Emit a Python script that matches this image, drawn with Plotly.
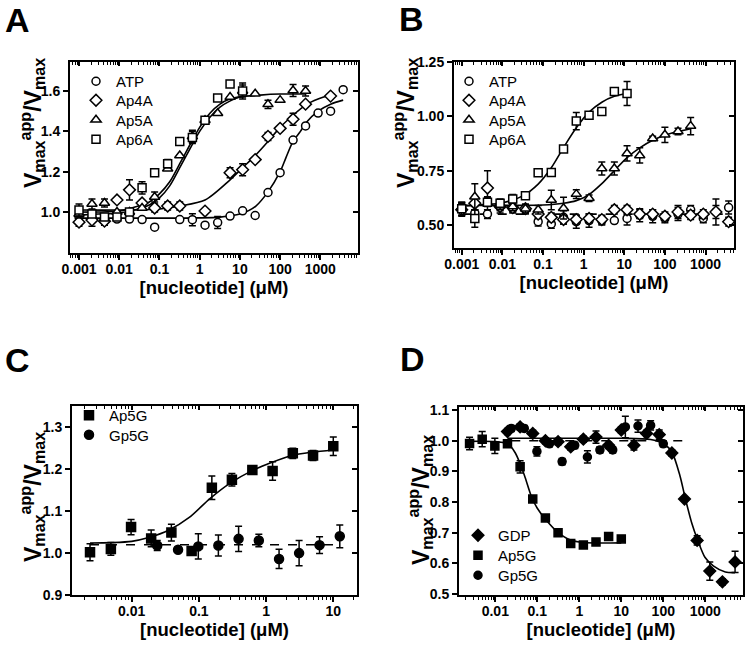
import plotly.graph_objects as go

W, H = 745, 647
FONT = "Liberation Sans, Arial, sans-serif"

# ---------------- Panel A ----------------
A_ATP_X = [0.001, 0.0021, 0.0043, 0.0088, 0.018, 0.037, 0.076, 0.32, 0.66, 1.36, 2.8, 5.7, 11.7, 24, 50, 100, 210, 430, 880, 1800, 3700]
A_ATP_Y = [0.975, 0.97, 0.962, 0.965, 0.965, 0.963, 0.925, 0.963, 0.962, 0.935, 0.948, 0.98, 1.006, 0.983, 1.097, 1.195, 1.357, 1.427, 1.491, 1.50, 1.607]
A_ATP_E = [0.02, 0.02, 0.02, 0.01, 0.01, 0, 0, 0, 0.03, 0, 0.03, 0, 0, 0, 0, 0, 0, 0, 0, 0, 0]

A_AP4A_X = [0.001, 0.0021, 0.0043, 0.0088, 0.018, 0.037, 0.076, 0.16, 0.32, 1.36, 5.7, 11.7, 24, 50, 100, 210, 430, 1800]
A_AP4A_Y = [0.95, 0.96, 0.955, 1.06, 1.11, 1.045, 1.02, 1.03, 1.03, 1.005, 1.195, 1.21, 1.26, 1.375, 1.415, 1.46, 1.535, 1.575]
A_AP4A_E = [0.02, 0.03, 0.02, 0, 0.05, 0, 0.02, 0.02, 0.02, 0, 0.025, 0.03, 0, 0.02, 0, 0.03, 0, 0]

A_AP5A_X = [0.001, 0.0021, 0.0043, 0.0088, 0.018, 0.037, 0.076, 0.16, 0.32, 0.66, 1.36, 2.8, 5.7, 11.7, 24, 50, 100, 210, 430]
A_AP5A_Y = [0.99, 1.04, 1.045, 1.0, 1.0, 1.02, 1.075, 1.215, 1.28, 1.375, 1.455, 1.49, 1.57, 1.60, 1.587, 1.534, 1.555, 1.603, 1.60]
A_AP5A_E = [0.02, 0.025, 0.02, 0, 0, 0, 0.025, 0, 0, 0.03, 0, 0, 0, 0.03, 0, 0.02, 0, 0.03, 0.025]

A_AP6A_X = [0.001, 0.0021, 0.0043, 0.0088, 0.018, 0.037, 0.076, 0.16, 0.32, 0.66, 1.36, 2.8, 5.7, 11.7]
A_AP6A_Y = [1.01, 0.99, 0.975, 0.975, 1.0, 1.12, 1.195, 1.24, 1.35, 1.37, 1.455, 1.565, 1.635, 1.60]
A_AP6A_E = [0.03, 0, 0, 0, 0, 0.03, 0, 0.02, 0, 0.03, 0, 0, 0.015, 0.04]

A_FIT_ATP_X = [0.001, 0.01, 0.1, 1, 3.2, 10, 25, 50, 100, 140, 210, 320, 430, 880, 1800, 3700]
A_FIT_ATP_Y = [0.97, 0.97, 0.97, 0.971, 0.975, 0.99, 1.03, 1.10, 1.20, 1.27, 1.35, 1.40, 1.44, 1.50, 1.535, 1.555]
A_FIT_AP4A_X = [0.001, 0.01, 0.1, 0.32, 1.36, 5.7, 11.7, 24, 50, 100, 210, 430, 880, 1800]
A_FIT_AP4A_Y = [1.01, 1.01, 1.015, 1.03, 1.06, 1.16, 1.22, 1.28, 1.35, 1.42, 1.48, 1.53, 1.56, 1.58]
A_FIT_AP5A_X = [0.001, 0.003, 0.01, 0.03, 0.056, 0.1, 0.18, 0.32, 0.56, 1, 1.8, 3.2, 5.6, 10, 32, 100, 430]
A_FIT_AP5A_Y = [0.985, 0.99, 0.995, 1.015, 1.035, 1.07, 1.13, 1.22, 1.31, 1.40, 1.47, 1.52, 1.55, 1.57, 1.58, 1.585, 1.585]
A_FIT_AP6A_X = [0.001, 0.003, 0.01, 0.03, 0.056, 0.1, 0.18, 0.32, 0.56, 1, 1.8, 3.2, 5.6, 11.7]
A_FIT_AP6A_Y = [1.0, 1.0, 1.005, 1.03, 1.05, 1.09, 1.15, 1.24, 1.33, 1.42, 1.49, 1.535, 1.56, 1.575]

# ---------------- Panel B ----------------
B_CONC = [0.001, 0.0021, 0.0043, 0.0088, 0.018, 0.037, 0.076, 0.16, 0.32, 0.66, 1.36, 2.8, 5.7, 11.7, 24, 50, 100, 210, 430, 880, 1800, 3700]
B_ATP_Y = [0.575, 0.555, 0.55, 0.585, 0.575, 0.57, 0.515, 0.505, 0.535, 0.515, 0.52, 0.52, 0.52, 0.53, 0.545, 0.54, 0.53, 0.55, 0.57, 0.53, 0.56, 0.58]
B_ATP_E = [0.03, 0.03, 0.02, 0.02, 0.02, 0.02, 0.02, 0.02, 0.03, 0.03, 0.03, 0.02, 0.01, 0.03, 0.03, 0.03, 0.02, 0.03, 0.02, 0.02, 0.03, 0.03]
B_AP4A_Y = [0.57, 0.60, 0.67, 0.585, 0.58, 0.575, 0.55, 0.535, 0.525, 0.525, 0.53, 0.525, 0.57, 0.57, 0.55, 0.55, 0.54, 0.56, 0.545, 0.55, 0.56, 0.515]
B_AP4A_E = [0.03, 0.03, 0.08, 0.03, 0.02, 0.02, 0.02, 0.02, 0.02, 0.02, 0.02, 0.02, 0.02, 0.02, 0.02, 0.02, 0.02, 0.03, 0.02, 0.02, 0.06, 0.02]
B_AP5A_Y = [0.58, 0.63, 0.60, 0.59, 0.585, 0.575, 0.57, 0.615, 0.577, 0.642, 0.623, 0.76, 0.76, 0.829, 0.82, 0.898, 0.915, 0.93, 0.955]
B_AP5A_E = [0.02, 0.06, 0.03, 0.02, 0.02, 0.02, 0.02, 0.045, 0.05, 0.02, 0.015, 0.03, 0.03, 0.035, 0.035, 0.01, 0.035, 0.015, 0.04]
B_AP6A_Y = [0.575, 0.53, 0.605, 0.60, 0.62, 0.635, 0.74, 0.742, 0.85, 0.978, 1.005, 1.022, 1.114, 1.105]
B_AP6A_E = [0.03, 0.04, 0.02, 0.02, 0.02, 0.015, 0.01, 0.01, 0.01, 0.04, 0.01, 0.012, 0.01, 0.055]

B_FIT_AP6A_X = [0.001, 0.01, 0.032, 0.076, 0.16, 0.32, 0.66, 1.36, 2.8, 5.7, 11.7]
B_FIT_AP6A_Y = [0.587, 0.602, 0.634, 0.688, 0.763, 0.856, 0.947, 1.019, 1.065, 1.092, 1.106]
B_FIT_AP5A_X = [0.001, 0.01, 0.1, 0.32, 0.66, 1.36, 2.8, 5.7, 11.7, 24, 50, 100, 210, 430]
B_FIT_AP5A_Y = [0.59, 0.59, 0.592, 0.60, 0.612, 0.64, 0.69, 0.75, 0.81, 0.855, 0.89, 0.913, 0.93, 0.943]
B_FLAT_X = [0.001, 3700]
B_FLAT_Y = [0.55, 0.55]

# ---------------- Panel C ----------------
C_AP5G_X = [0.0024, 0.0049, 0.0098, 0.0195, 0.039, 0.078, 0.156, 0.31, 0.625, 1.25, 2.5, 5, 10]
C_AP5G_Y = [1.002, 1.01, 1.062, 1.035, 1.049, 1.005, 1.156, 1.175, 1.198, 1.196, 1.238, 1.233, 1.255]
C_AP5G_E = [0.02, 0.015, 0.018, 0.02, 0.02, 0.005, 0.028, 0.015, 0.01, 0.022, 0.012, 0.012, 0.022]
C_GP5G_X = [0.024, 0.049, 0.098, 0.195, 0.39, 0.78, 1.56, 3.1, 6.25, 12.5]
C_GP5G_Y = [1.018, 1.008, 1.016, 1.018, 1.034, 1.03, 0.986, 1.0, 1.019, 1.04]
C_GP5G_E = [0.012, 0.005, 0.03, 0.025, 0.03, 0.015, 0.023, 0.03, 0.02, 0.027]
C_FIT_X = [0.0024, 0.005, 0.01, 0.018, 0.036, 0.072, 0.146, 0.3, 0.59, 1.2, 2.4, 4.9, 10]
C_FIT_Y = [1.024, 1.025, 1.028, 1.037, 1.055, 1.085, 1.13, 1.168, 1.195, 1.216, 1.233, 1.241, 1.246]
C_FLAT_X = [0.0024, 12.5]
C_FLAT_Y = [1.02, 1.02]

# ---------------- Panel D ----------------
D_GDP_X = [0.0195, 0.039, 0.078, 0.156, 0.3125, 0.625, 1.25, 2.5, 5, 10, 20, 40, 80, 160, 320, 640, 1280, 2560, 5120]
D_GDP_Y = [1.03, 1.045, 1.024, 1.0, 0.997, 0.98, 1.005, 1.012, 0.985, 1.035, 0.985, 1.024, 1.02, 0.96, 0.81, 0.675, 0.575, 0.54, 0.605]
D_GDP_E = [0.01, 0.01, 0.01, 0.01, 0.01, 0.01, 0.01, 0.02, 0.01, 0.01, 0.015, 0.01, 0.015, 0.01, 0.005, 0.015, 0.03, 0.01, 0.035]
D_AP5G_X = [0.00244, 0.00488, 0.00977, 0.0195, 0.039, 0.078, 0.156, 0.3125, 0.625, 1.25, 2.5, 5, 10]
D_AP5G_Y = [0.991, 1.005, 0.983, 0.99, 0.915, 0.81, 0.748, 0.70, 0.665, 0.66, 0.67, 0.688, 0.68]
D_AP5G_E = [0.02, 0.025, 0.025, 0.01, 0.02, 0.01, 0.01, 0.005, 0.005, 0.005, 0.01, 0.005, 0.005]
D_GP5G_X = [0.024, 0.049, 0.098, 0.195, 0.39, 0.78, 1.56, 3.1, 6.25, 12.5, 25, 50, 100]
D_GP5G_Y = [1.04, 1.04, 0.965, 0.99, 0.932, 0.985, 0.947, 0.97, 0.97, 1.045, 1.048, 1.05, 0.99]
D_GP5G_E = [0.01, 0.01, 0.015, 0.01, 0.01, 0.01, 0.02, 0.01, 0.01, 0.035, 0.02, 0.015, 0.01]
D_FIT_GDP_X = [0.0195, 0.1, 1, 10, 50, 100, 158, 250, 330, 480, 650, 980, 1550, 3000, 5120]
D_FIT_GDP_Y = [1.008, 1.008, 1.008, 1.008, 1.004, 0.99, 0.965, 0.885, 0.815, 0.73, 0.678, 0.62, 0.592, 0.572, 0.57]
D_FIT_AP5G_X = [0.00244, 0.01, 0.02, 0.03, 0.039, 0.05, 0.074, 0.1, 0.155, 0.3, 0.6, 1.25, 10]
D_FIT_AP5G_Y = [0.998, 0.997, 0.99, 0.96, 0.925, 0.885, 0.815, 0.78, 0.745, 0.703, 0.677, 0.668, 0.667]
D_FLAT_X = [0.024, 300]
D_FLAT_Y = [1.0, 1.0]

# ---------------- tick labels ----------------
TICKS_AB = [0.001, 0.01, 0.1, 1, 10, 100, 1000]
TICKS_AB_TEXT = ["0.001", "0.01", "0.1", "1", "10", "100", "1000"]
TICKS_C = [0.01, 0.1, 1, 10]
TICKS_C_TEXT = ["0.01", "0.1", "1", "10"]
TICKS_D = [0.01, 0.1, 1, 10, 100, 1000]
TICKS_D_TEXT = ["0.01", "0.1", "1", "10", "100", "1000"]
YT_A = [1.0, 1.2, 1.4, 1.6]
YT_A_TEXT = ["1.0", "1.2", "1.4", "1.6"]
YT_B = [0.5, 0.75, 1.0, 1.25]
YT_B_TEXT = ["0.50", "0.75", "1.00", "1.25"]
YT_C = [0.9, 1.0, 1.1, 1.2, 1.3]
YT_C_TEXT = ["0.9", "1.0", "1.1", "1.2", "1.3"]
YT_D = [0.5, 0.6, 0.7, 0.8, 0.9, 1.0, 1.1]
YT_D_TEXT = ["0.5", "0.6", "0.7", "0.8", "0.9", "1.0", "1.1"]
X_TITLE = "[nucleotide] (μM)"
Y_TITLE = "V<sub>max</sub><sup>app</sup>/V<sub>max</sub>"

fig = go.Figure()


def minor_vals(lo, hi):
    out = []
    for e in range(lo, hi + 1):
        for m in range(2, 10):
            out.append(m * 10.0 ** e)
    return out


def line(x, y, n, dash="solid"):
    fig.add_trace(go.Scatter(
        x=x, y=y, mode="lines", xaxis=f"x{n}", yaxis=f"y{n}",
        line=dict(color="black", width=1.6, dash=dash, shape="spline", smoothing=0.8),
        showlegend=False, hoverinfo="skip"))


LEG = []  # (legend id, left px, item-centre px)


def pts(x, y, e, name, symbol, fill, size, n, lx, ly):
    lid = "legend" if not LEG else f"legend{len(LEG) + 1}"
    LEG.append((lid, lx, ly))
    fig.add_trace(go.Scatter(
        x=x, y=y, mode="markers", name=name, xaxis=f"x{n}", yaxis=f"y{n}",
        marker=dict(symbol=symbol, size=size, color=fill,
                    line=dict(color="black", width=1.5)),
        error_y=dict(type="data", array=e, visible=True, color="black",
                     thickness=1.5, width=3.5),
        legend=lid, showlegend=True))


# Panel A
line(A_FIT_ATP_X, A_FIT_ATP_Y, 1)
line(A_FIT_AP4A_X, A_FIT_AP4A_Y, 1)
line(A_FIT_AP5A_X, A_FIT_AP5A_Y, 1)
line(A_FIT_AP6A_X, A_FIT_AP6A_Y, 1)
pts(A_ATP_X, A_ATP_Y, A_ATP_E, "ATP", "circle", "white", 8, 1, 76, 81)
pts(A_AP4A_X, A_AP4A_Y, A_AP4A_E, "Ap4A", "diamond", "white", 9, 1, 76, 100)
pts(A_AP5A_X, A_AP5A_Y, A_AP5A_E, "Ap5A", "triangle-up", "white", 9, 1, 76, 119.5)
pts(A_AP6A_X, A_AP6A_Y, A_AP6A_E, "Ap6A", "square", "white", 8, 1, 76, 139)

# Panel B
line(B_FLAT_X, B_FLAT_Y, 2, "dash")
line(B_FIT_AP5A_X, B_FIT_AP5A_Y, 2)
line(B_FIT_AP6A_X, B_FIT_AP6A_Y, 2)
pts(B_CONC, B_ATP_Y, B_ATP_E, "ATP", "circle", "white", 8, 2, 449, 81)
pts(B_CONC, B_AP4A_Y, B_AP4A_E, "Ap4A", "diamond", "white", 9, 2, 449, 100)
pts(B_CONC[:len(B_AP5A_Y)], B_AP5A_Y, B_AP5A_E, "Ap5A", "triangle-up", "white", 9, 2, 449, 119.5)
pts(B_CONC[:len(B_AP6A_Y)], B_AP6A_Y, B_AP6A_E, "Ap6A", "square", "white", 8, 2, 449, 139)

# Panel C
line(C_FLAT_X, C_FLAT_Y, 3, "dash")
line(C_FIT_X, C_FIT_Y, 3)
pts(C_AP5G_X, C_AP5G_Y, C_AP5G_E, "Ap5G", "square", "black", 9, 3, 69, 415)
pts(C_GP5G_X, C_GP5G_Y, C_GP5G_E, "Gp5G", "circle", "black", 9, 3, 69, 434.5)

# Panel D
line(D_FLAT_X, D_FLAT_Y, 4, "dash")
line(D_FIT_GDP_X, D_FIT_GDP_Y, 4)
line(D_FIT_AP5G_X, D_FIT_AP5G_Y, 4)
pts(D_GDP_X, D_GDP_Y, D_GDP_E, "GDP", "diamond", "black", 9, 4, 458, 535)
pts(D_AP5G_X, D_AP5G_Y, D_AP5G_E, "Ap5G", "square", "black", 8, 4, 458, 555)
pts(D_GP5G_X, D_GP5G_Y, D_GP5G_E, "Gp5G", "circle", "black", 8, 4, 458, 575)

# dummy traces for mirrored (inside-tick) axes
for n in range(1, 5):
    fig.add_trace(go.Scatter(x=[None], y=[None], xaxis=f"x{n+4}", yaxis=f"y{n}",
                             showlegend=False, hoverinfo="skip"))
    fig.add_trace(go.Scatter(x=[None], y=[None], xaxis=f"x{n}", yaxis=f"y{n+4}",
                             showlegend=False, hoverinfo="skip"))

panels = [
    # box(px): left, top, right, bottom ; x log range ; y range ; y-title centre px
    dict(box=(70, 62, 358, 253), xr=(-3.224, 3.937), yr=(0.797, 1.744),
         xt=TICKS_AB, xtt=TICKS_AB_TEXT, yt=YT_A, ytt=YT_A_TEXT, mv=(-4, 3), yt_c=(32, 123)),
    dict(box=(454, 62, 734, 248), xr=(-3.19, 3.70), yr=(0.394, 1.25),
         xt=TICKS_AB, xtt=TICKS_AB_TEXT, yt=YT_B, ytt=YT_B_TEXT, mv=(-4, 3), yt_c=(405, 123)),
    dict(box=(72, 406, 357, 595), xr=(-2.888, 1.353), yr=(0.9, 1.351),
         xt=TICKS_C, xtt=TICKS_C_TEXT, yt=YT_C, ytt=YT_C_TEXT, mv=(-3, 1), yt_c=(32, 497)),
    dict(box=(459, 407, 743, 595), xr=(-2.864, 3.898), yr=(0.497, 1.11),
         xt=TICKS_D, xtt=TICKS_D_TEXT, yt=YT_D, ytt=YT_D_TEXT, mv=(-3, 3), yt_c=(420, 500)),
]

tickfont = dict(family=FONT, size=14, color="black", weight="bold")
titlefont = dict(family=FONT, size=18.5, color="black", weight="bold")
layout = {}
annotations = []
for i, p in enumerate(panels, start=1):
    l, t, r, b = p["box"]
    xd = [l / W, r / W]
    yd = [1 - b / H, 1 - t / H]
    mv = minor_vals(*p["mv"])
    layout[f"xaxis{i}"] = dict(
        type="log", range=list(p["xr"]), domain=xd, anchor=f"y{i}", automargin=False,
        tickmode="array", tickvals=p["xt"], ticktext=p["xtt"],
        ticks="outside", ticklen=5, tickwidth=1.5, tickcolor="black",
        ticklabelstandoff=-3,
        minor=dict(tickmode="array", tickvals=mv, ticks="outside", ticklen=3,
                   tickwidth=1, tickcolor="black", showgrid=False),
        showline=True, linewidth=2, linecolor="black", mirror=True,
        showgrid=False, zeroline=False, tickfont=tickfont,
        title=dict(text=X_TITLE, font=titlefont, standoff=4))
    layout[f"yaxis{i}"] = dict(
        range=list(p["yr"]), domain=yd, anchor=f"x{i}", automargin=False,
        tickmode="array", tickvals=p["yt"], ticktext=p["ytt"],
        ticks="outside", ticklen=5, tickwidth=1.5, tickcolor="black",
        showline=True, linewidth=2, linecolor="black", mirror=True,
        showgrid=False, zeroline=False, tickfont=tickfont)
    layout[f"xaxis{i+4}"] = dict(
        type="log", range=list(p["xr"]), overlaying=f"x{i}", side="top",
        anchor=f"y{i}", automargin=False, tickmode="array", tickvals=p["xt"],
        ticks="inside", ticklen=4, tickwidth=1.5, tickcolor="black",
        minor=dict(tickmode="array", tickvals=mv, ticks="inside", ticklen=2.5,
                   tickwidth=1, tickcolor="black", showgrid=False),
        showticklabels=False, showline=False, showgrid=False, zeroline=False)
    layout[f"yaxis{i+4}"] = dict(
        range=list(p["yr"]), overlaying=f"y{i}", side="right", anchor=f"x{i}",
        automargin=False, tickmode="array", tickvals=p["yt"],
        ticks="inside", ticklen=5, tickwidth=1.5, tickcolor="black",
        showticklabels=False, showline=False, showgrid=False, zeroline=False)
    cx, cy = p["yt_c"]
    annotations.append(dict(text=Y_TITLE, x=cx / W, y=1 - cy / H, xref="paper", yref="paper",
                            xanchor="center", yanchor="middle", textangle=-90, showarrow=False,
                            font=dict(family=FONT, size=23, color="black", weight="bold")))

legfont = dict(family=FONT, size=15, color="black")
for lid, lx, ly in LEG:
    layout[lid] = dict(x=lx / W, y=1 - (ly - 16) / H, xanchor="left", yanchor="top",
                       bgcolor="rgba(0,0,0,0)", font=legfont, borderwidth=0)

letters = [("A", 3, 20), ("B", 397, 19), ("C", 3, 360), ("D", 398, 359)]
for txt, xp, yp in letters:
    annotations.append(dict(text=txt, x=xp / W, y=1 - yp / H, xref="paper", yref="paper",
                            xanchor="left", yanchor="middle", showarrow=False,
                            font=dict(family=FONT, size=34, color="black", weight="bold")))

fig.update_layout(width=W, height=H, margin=dict(l=0, r=0, t=0, b=0, autoexpand=False),
                  paper_bgcolor="white", plot_bgcolor="white",
                  annotations=annotations, **layout)

fig.write_html("out.html", config={"displayModeBar": False},
               post_script="document.body.style.margin='0';")
